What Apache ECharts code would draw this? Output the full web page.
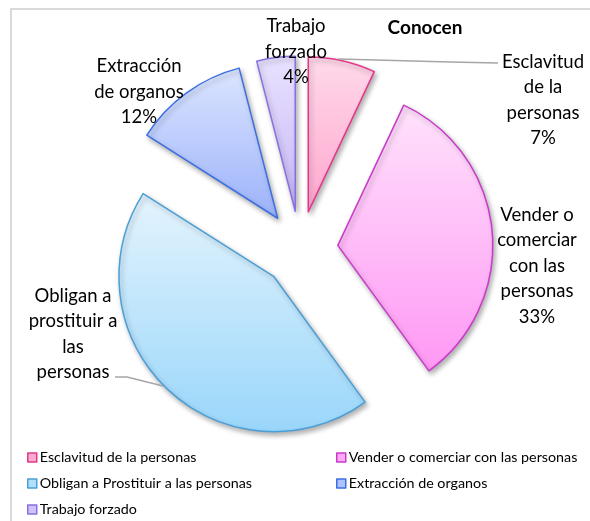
<!DOCTYPE html>
<html>
<head>
<meta charset="utf-8">
<script src="https://cdn.jsdelivr.net/npm/echarts@6/dist/echarts.min.js"></script>
<style>
html,body{margin:0;padding:0;background:#fff;}
#chart{width:590px;height:521px;}
</style>
</head>
<body>
<div id="chart"></div>
<script>
// ---- data ----
var categories = ['Esclavitud de la personas', 'Vender o comerciar con las personas', 'Obligan a Prostituir a las personas', 'Extracción de organos', 'Trabajo forzado'];
var values = [7, 33, 44, 12, 4];
var labelNames = ['Esclavitud\nde la\npersonas', 'Vender o\ncomerciar\ncon las\npersonas', 'Obligan a\nprostituir a\nlas\npersonas', 'Extracción\nde organos', 'Trabajo\nforzado'];
var showPercent = [true, true, false, true, true];
var titleText = 'Conocen';

// ---- styles / layout ----
var fills = [
  ['#ffd9ea', '#ffa6ce'],
  ['#ffe2fc', '#ff98f4'],
  ['#e4f4fd', '#99d6fa'],
  ['#dbe5fe', '#9cb2fb'],
  ['#e9e2ff', '#c6b6f5']
];
var borders = ['#e3388a', '#c93ac9', '#4a9fd8', '#3c6fe0', '#8a6fe0'];
var legendFill = ['#ffaad2', '#ffaaf7', '#b0e0fb', '#aec2fc', '#cfc2f8'];
var labelPos = [[543, 100], [537, 266], [73, 334], [139, 92], [296, 52]];
var leaderPts = [
  [[338, 59], [450, 62], [498, 63]],
  [[115, 377], [127, 377], [163, 386]]
];

var FONT = 'Lato, "Open Sans", sans-serif';

var total = values.reduce(function (a, b) { return a + b; }, 0);

var seriesData = categories.map(function (c, i) {
  return {
    name: c,
    value: values[i],
    selected: true,
    itemStyle: {
      color: new echarts.graphic.LinearGradient(0, 0, 0, 1, [
        { offset: 0, color: fills[i][0] },
        { offset: 1, color: fills[i][1] }
      ]),
      borderColor: borders[i]
    }
  };
});

var graphics = [{
  type: 'rect',
  shape: { x: 11, y: 9, width: 640, height: 600 },
  style: { fill: 'none', stroke: '#d9d9d9', lineWidth: 2 },
  silent: true,
  z: -1
}];
leaderPts.forEach(function (pts) {
  graphics.push({
    type: 'polyline',
    shape: { points: pts },
    style: { stroke: '#a6a6a6', lineWidth: 1.5, fill: 'none' },
    silent: true,
    z: 10
  });
});
categories.forEach(function (c, i) {
  var pct = Math.round(values[i] / total * 100) + '%';
  graphics.push({
    type: 'text',
    x: labelPos[i][0],
    y: labelPos[i][1],
    silent: true,
    z: 20,
    style: {
      text: labelNames[i] + (showPercent[i] ? '\n' + pct : ''),
      fontFamily: FONT,
      fontSize: 18.5,
      lineHeight: 25.5,
      fill: '#000',
      align: 'center',
      verticalAlign: 'middle'
    }
  });
});

function legendItems(idx) {
  return idx.map(function (i) {
    return { name: categories[i], itemStyle: { color: legendFill[i], borderColor: borders[i], borderWidth: 1.5 } };
  });
}
function makeLegend(left, idx) {
  return {
    orient: 'vertical',
    left: left, top: 450,
    height: 120,
    padding: 0,
    itemGap: 11,
    itemWidth: 9, itemHeight: 9,
    icon: 'rect',
    selectedMode: false,
    textStyle: { fontFamily: FONT, fontSize: 14.3, lineHeight: 15, color: '#000', padding: [0, 0, 0, -2] },
    data: legendItems(idx)
  };
}

var chart = echarts.init(document.getElementById('chart'), null, { renderer: 'canvas' });
chart.setOption({
  animation: false,
  backgroundColor: '#ffffff',
  title: {
    text: titleText,
    left: 420, top: 13,
    textAlign: 'center',
    textStyle: { fontFamily: FONT, fontSize: 19, fontWeight: 'bold', color: '#000' }
  },
  graphic: graphics,
  legend: [makeLegend(27, [0, 2, 4]), makeLegend(336, [1, 3])],
  series: [{
    type: 'pie',
    center: [300, 249],
    radius: [0, 155],
    startAngle: 90,
    clockwise: true,
    selectedMode: 'multiple',
    selectedOffset: 38,
    emphasis: { disabled: true },
    itemStyle: {
      borderWidth: 1.5,
      shadowBlur: 5,
      shadowOffsetX: 2,
      shadowOffsetY: 3,
      shadowColor: 'rgba(0,0,0,0.3)'
    },
    label: { show: false },
    labelLine: { show: false },
    data: seriesData
  }]
});
</script>
</body>
</html>
